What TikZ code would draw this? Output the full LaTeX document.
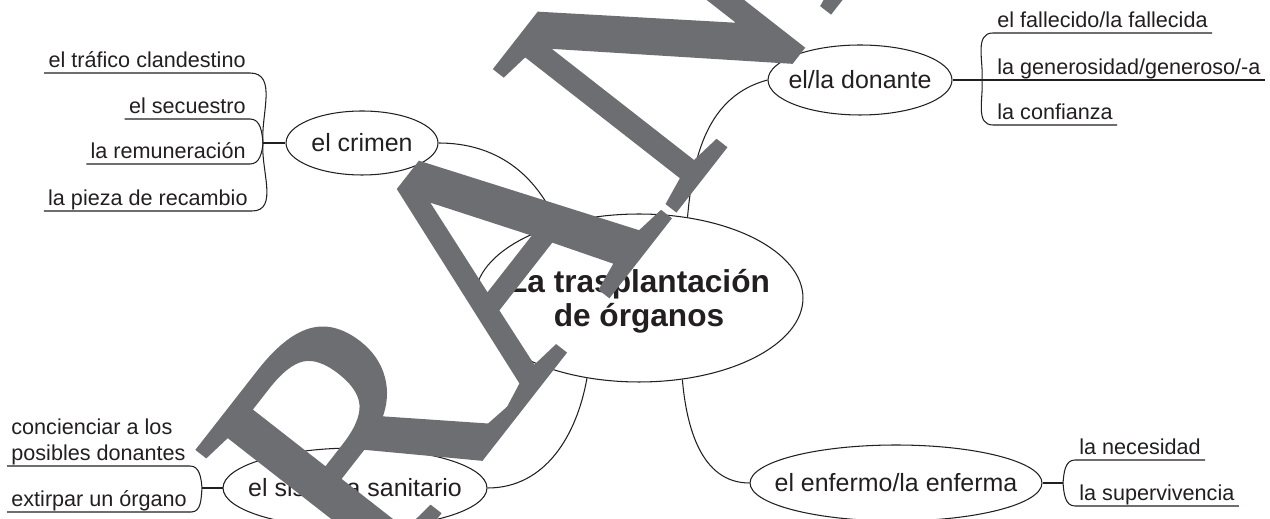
\documentclass[tikz,border=0pt]{standalone}
\usepackage{fontspec}
\setmainfont{Liberation Sans}
\newfontfamily\wmfont[FakeBold=1.5]{Liberation Serif}
\usepackage{tikz}
\usetikzlibrary{shapes,positioning,calc}
\definecolor{ink}{RGB}{35,31,32}
\definecolor{wmgray}{RGB}{109,110,114}

\begin{document}
\begin{tikzpicture}[x=0.02cm, y=-0.02cm, line width=0.6pt, color=ink,
    topic/.style={ellipse, draw, inner xsep=-0.4cm, inner ysep=0pt, font=\fontsize{14.2}{17}\selectfont},
    leaf/.style={inner xsep=2.2pt, inner ysep=3pt, text depth=0pt, font=\fontsize{12.3}{14.8}\selectfont},
    wm/.style={inner sep=0pt, text=wmgray, font=\wmfont\fontsize{198}{198}\selectfont}]
    \path[use as bounding box, clip] (0,0) rectangle (1270,519);

    % Central topic
    \node[topic, minimum width=6.56cm, minimum height=3.36cm, align=center, text depth=0pt,
          font=\bfseries\fontsize{18}{19.3}\selectfont] (T) at (639,298) {La trasplantación\\de órganos};

    % Subtopics
    \node[topic, minimum width=3.04cm, minimum height=1.28cm] (C) at (362,143) {el crimen};
    \node[topic, minimum width=3.68cm, minimum height=1.4cm] (D) at (860,80) {el/la donante};
    \node[topic, minimum width=5.28cm, minimum height=1.6cm] (S) at (355,488) {el sistema sanitario};
    \node[topic, minimum width=5.84cm, minimum height=1.52cm] (E) at (896,483) {el enfermo/la enferma};

    \draw (C.east) to[out=0, in=113] (T.138);
    \draw (D.west) to[out=195, in=85] (T.59);
    \draw (S.east) to[out=0, in=-100] (T.237);
    \draw (E.west) to[out=180, in=-85] (T.298);

    % el crimen
    \node[leaf, anchor=south east] (c1) at (250,73) {el tráfico clandestino};
    \node[leaf, anchor=south east] (c2) at (250,119) {el secuestro};
    \node[leaf, anchor=south east] (c3) at (250,164) {la remuneración};
    \node[leaf, anchor=south east] (c4) at (252,211) {la pieza de recambio};
    \coordinate (bc) at (263,143);
    \draw (C.west) -- (bc);
    \draw (c1.south west) -- (c1.south east) to[out=0, in=95] (bc);
    \draw (c2.south west) -- (c2.south east) to[out=0, in=95] (bc);
    \draw (c3.south west) -- (c3.south east) to[out=0, in=-95] (bc);
    \draw (c4.south west) -- (c4.south east) to[out=0, in=-95] (bc);

    % el/la donante
    \node[leaf, anchor=south west] (d1) at (993,33) {el fallecido/la fallecida};
    \node[leaf, anchor=south west] (d2) at (993,80) {la generosidad/generoso/-a};
    \node[leaf, anchor=south west] (d3) at (993,125) {la confianza};
    \coordinate (bd) at (982,80);
    \draw (D.east) -- (bd) -- (d2.south west) -- (d2.south east);
    \draw (bd) to[out=85, in=180] (d1.south west) -- (d1.south east);
    \draw (bd) to[out=-85, in=180] (d3.south west) -- (d3.south east);

    % el sistema sanitario
    \node[leaf, anchor=south west, align=left] (s1) at (7,466) {concienciar a los\\posibles donantes};
    \node[leaf, anchor=south west] (s2) at (7,512) {extirpar un órgano};
    \coordinate (bs) at (202,488);
    \draw (S.west) -- (bs);
    \draw (s1.south west) -- (s1.south east) to[out=0, in=95] (bs);
    \draw (s2.south west) -- (s2.south east) to[out=0, in=-95] (bs);

    % el enfermo/la enferma
    \node[leaf, anchor=south west] (e1) at (1075,460) {la necesidad};
    \node[leaf, anchor=south west] (e2) at (1075,506) {la supervivencia};
    \coordinate (be) at (1063,483);
    \draw (E.east) -- (be);
    \draw (be) to[out=85, in=180] (e1.south west) -- (e1.south east);
    \draw (be) to[out=-85, in=180] (e2.south west) -- (e2.south east);

    % Watermark
    \node[wm, rotate=52, anchor=base west] (W) at (372,598) {RAND};
\end{tikzpicture}
\end{document}
